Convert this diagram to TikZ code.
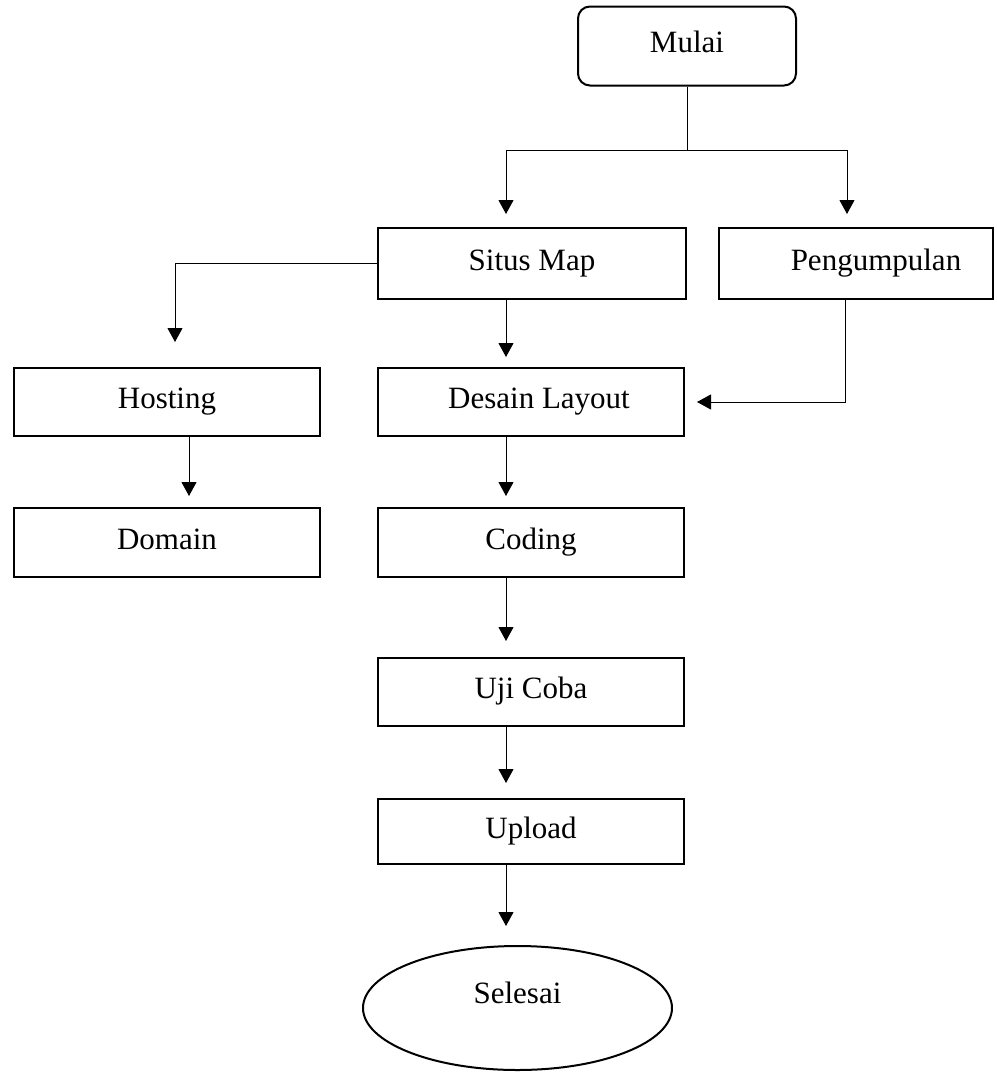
\documentclass[tikz,border=0pt]{standalone}
\usepackage{fontspec}
\setmainfont{Liberation Serif}
\usetikzlibrary{shapes.geometric,arrows.meta}

\begin{document}
\begin{tikzpicture}[x=0.5pt,y=-0.5pt,
    font=\fontsize{15.5}{18}\selectfont,
    box/.style={draw,line width=1pt,minimum width=153pt,minimum height=34pt,inner sep=0pt,text height=0.66em,text depth=0pt},
    arr/.style={-{Triangle[length=7pt,width=7.5pt]},line width=0.5pt,shorten >=7pt}]
  \useasboundingbox (0,0) rectangle (997,1073);
  \node[box,rounded corners=6pt,minimum width=109pt,minimum height=39.5pt] (mulai) at (687,46) {Mulai};
  \node[box,minimum width=154pt,minimum height=35.5pt] (situs) at (532,263.5) {Situs Map};
  \node[box,minimum width=137pt,minimum height=35.5pt] (kumpul) at (856,263.5) {\hspace*{20pt}Pengumpulan};
  \node[box] (hosting) at (167,402) {Hosting};
  \node[box] (desain) at (531,402) {\hspace*{8pt}Desain Layout};
  \node[box,minimum height=34.5pt] (domain) at (167,542.5) {Domain};
  \node[box,minimum height=34.5pt] (coding) at (531,542.5) {Coding};
  \node[box] (uji) at (531,692) {Uji Coba};
  \node[box,minimum height=32.5pt] (upload) at (531,831.5) {Upload};
  \node[draw,line width=1pt,ellipse,minimum width=154.5pt,minimum height=62pt,inner sep=0pt,text height=0.66em,text depth=11.5pt] (selesai) at (517.5,1008) {Selesai};
  \coordinate (jl) at (506,150);
  \coordinate (jr) at (847,150);
  \coordinate (hl) at (175,263.5);
  \coordinate (hd) at (189,542.5);
  \coordinate (pk) at (845,402);
  \draw[arr,shorten >=6.5pt] (mulai.south) |- (jl) -- (jl |- situs.north);
  \draw[arr,shorten >=6.5pt] (mulai.south |- jl) -- (jr) -- (jr |- kumpul.north);
  \draw[arr,shorten >=12.5pt] (situs.west) -| (hl |- hosting.north);
  \draw[arr,shorten >=5pt] (situs.south -| jl) -- (desain.north -| jl);
  \draw[arr,shorten >=6pt] (kumpul.south -| pk) |- (desain.east);
  \draw[arr,shorten >=5.5pt] (hosting.south -| hd) -- (domain.north -| hd);
  \draw[arr,shorten >=5.5pt] (desain.south -| jl) -- (coding.north -| jl);
  \draw[arr,shorten >=8pt] (coding.south -| jl) -- (uji.north -| jl);
  \draw[arr,shorten >=7.5pt] (uji.south -| jl) -- (upload.north -| jl);
  \draw[arr,shorten >=9.5pt] (upload.south -| jl) -- (selesai.north -| jl);
\end{tikzpicture}
\end{document}
